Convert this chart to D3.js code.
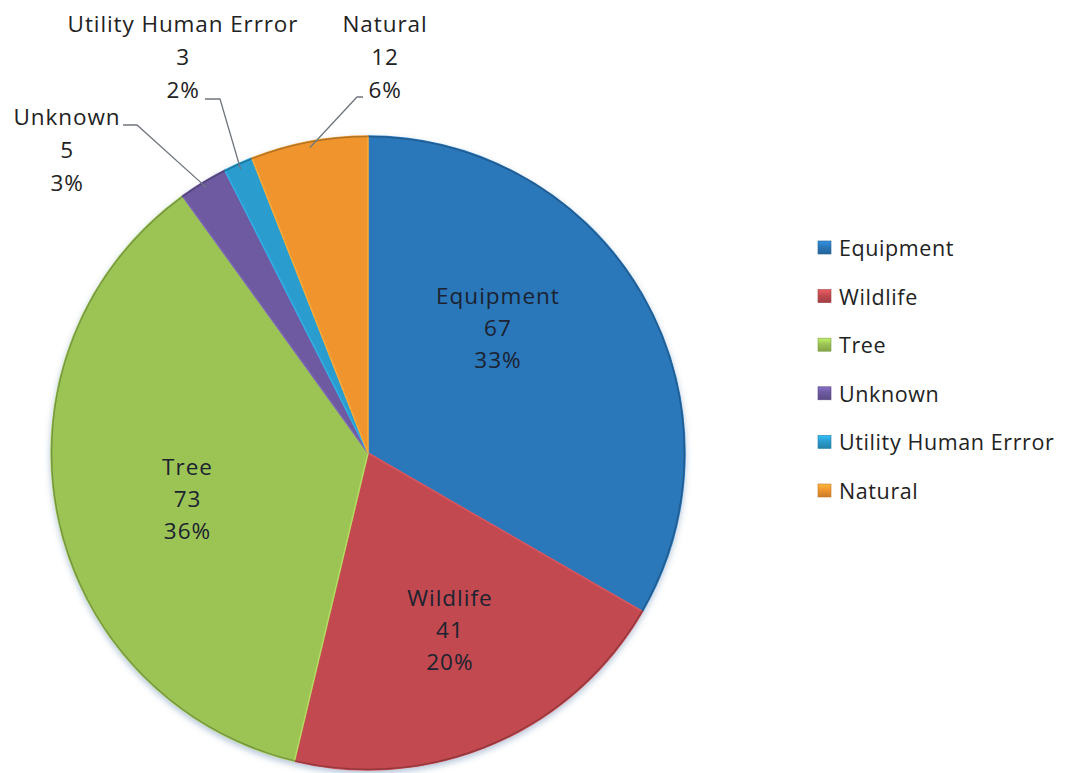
<!DOCTYPE html>
<html>
<head>
<meta charset="utf-8">
<script src="https://cdn.jsdelivr.net/npm/d3@7"></script>
<style>
  html, body { margin: 0; padding: 0; background: #fff; }
  svg { display: block; }
  text { font-family: "Open Sans", "Noto Sans", sans-serif; fill: #222; }
</style>
</head>
<body>
<svg id="chart" width="1076" height="773"></svg>
<script>
// data
const categories = ['Equipment', 'Wildlife', 'Tree', 'Unknown', 'Utility Human Errror', 'Natural'];
const counts = [67, 41, 73, 5, 3, 12];
const percents = ['33%', '20%', '36%', '3%', '2%', '6%'];
const colors = ['#2a77b9', '#c14a50', '#9cc455', '#6d5aa0', '#2a9ccd', '#f0952f'];

const cx = 368, cy = 453, R = 317;

const svg = d3.select('#chart');
const defs = svg.append('defs');

// soft shadow under the pie
const shadow = defs.append('filter').attr('id', 'shadow')
    .attr('x', '-10%').attr('y', '-10%').attr('width', '120%').attr('height', '125%');
shadow.append('feGaussianBlur').attr('in', 'SourceAlpha').attr('stdDeviation', 3).attr('result', 'b');
shadow.append('feOffset').attr('dy', 3).attr('result', 'o');
shadow.append('feFlood').attr('flood-color', '#5a7fa8').attr('flood-opacity', 0.45);
shadow.append('feComposite').attr('in2', 'o').attr('operator', 'in');
const merge = shadow.append('feMerge');
merge.append('feMergeNode');
merge.append('feMergeNode').attr('in', 'SourceGraphic');

// small bevel for legend keys
colors.forEach((c, i) => {
    const g = defs.append('linearGradient').attr('id', 'key' + i)
        .attr('x1', 0).attr('y1', 0).attr('x2', 0).attr('y2', 1);
    g.append('stop').attr('offset', '0%').attr('stop-color', d3.color(c).brighter(0.6));
    g.append('stop').attr('offset', '45%').attr('stop-color', c);
    g.append('stop').attr('offset', '100%').attr('stop-color', d3.color(c).darker(0.5));
});

const slices = categories.map((name, i) => ({ name, value: counts[i], pct: percents[i], color: colors[i] }));

const pie = d3.pie().value(d => d.value).sort(null);
const arc = d3.arc().innerRadius(0).outerRadius(R);
const arcs = pie(slices);

const g = svg.append('g').attr('transform', `translate(${cx},${cy})`);

const pieG = g.append('g').attr('filter', 'url(#shadow)');
pieG.selectAll('path.slice')
    .data(arcs)
    .join('path')
    .attr('class', 'slice')
    .attr('d', arc)
    .attr('fill', d => d.data.color)
    .attr('stroke', d => d3.color(d.data.color).brighter(0.35))
    .attr('stroke-width', 1.5)
    .attr('stroke-linejoin', 'round');

// darker outer rim
g.append('circle').attr('r', R - 0.5)
    .attr('fill', 'none').attr('stroke', 'rgba(0,0,0,0.3)').attr('stroke-width', 1.5);

// inside labels for the big slices
const labelArc = d3.arc().innerRadius(R * 0.59).outerRadius(R * 0.59);
const nudge = { 'Equipment': [-32, -31], 'Wildlife': [8, 5], 'Tree': [3, 10] };
const lineGap = 32;
const labelSize = 22.5;
const legendSize = 21.5;

const inside = arcs.filter(d => d.data.value >= 20);
inside.forEach(d => {
    const [x, y] = labelArc.centroid(d);
    const [nx, ny] = nudge[d.data.name] || [0, 0];
    const t = g.append('text')
        .attr('text-anchor', 'middle')
        .attr('font-size', labelSize)
        .attr('letter-spacing', 1)
        .attr('transform', `translate(${x + nx},${y + ny})`)
        .style('fill', '#1b2230');
    [d.data.name, d.data.value, d.data.pct].forEach((s, k) => {
        t.append('tspan').attr('x', 0).attr('y', (k - 1) * lineGap + 8).text(s);
    });
});

// outside labels with leader lines (label block centre + hook relative to pie centre)
const outside = {
    'Unknown': { at: [-301, -303], hook: [[-245, -328], [-231, -328]] },
    'Utility Human Errror': { at: [-185, -396], hook: [[-163, -354], [-148, -354]] },
    'Natural': { at: [17, -396], hook: [[-5, -356], [-11, -356]] }
};
const edgeArc = d3.arc().innerRadius(R - 6).outerRadius(R - 6);

arcs.filter(d => outside[d.data.name]).forEach(d => {
    const o = outside[d.data.name];
    const t = g.append('text')
        .attr('text-anchor', 'middle')
        .attr('font-size', labelSize)
        .attr('letter-spacing', 0.9)
        .attr('transform', `translate(${o.at[0]},${o.at[1]})`);
    [d.data.name, d.data.value, d.data.pct].forEach((s, k) => {
        t.append('tspan').attr('x', 0).attr('y', (k - 1) * 33 + 8).text(s);
    });
    const end = edgeArc.centroid(d);
    g.append('path')
        .attr('d', d3.line()([...o.hook, end]))
        .attr('fill', 'none')
        .attr('stroke', '#6f767e')
        .attr('stroke-width', 1.3);
});

// legend
const legendY = d3.scalePoint().domain(categories).range([248, 491]);
const legend = svg.append('g');
const item = legend.selectAll('g').data(slices).join('g')
    .attr('transform', d => `translate(818,${legendY(d.name)})`);
item.append('rect')
    .attr('x', 0).attr('y', -7).attr('width', 13).attr('height', 13)
    .attr('fill', (d, i) => `url(#key${i})`)
    .attr('stroke', d => d3.color(d.color).darker(0.6)).attr('stroke-width', 0.6);
item.append('text')
    .attr('x', 21).attr('y', 8)
    .attr('font-size', legendSize)
    .attr('letter-spacing', 0.6)
    .text(d => d.name);
</script>
</body>
</html>
